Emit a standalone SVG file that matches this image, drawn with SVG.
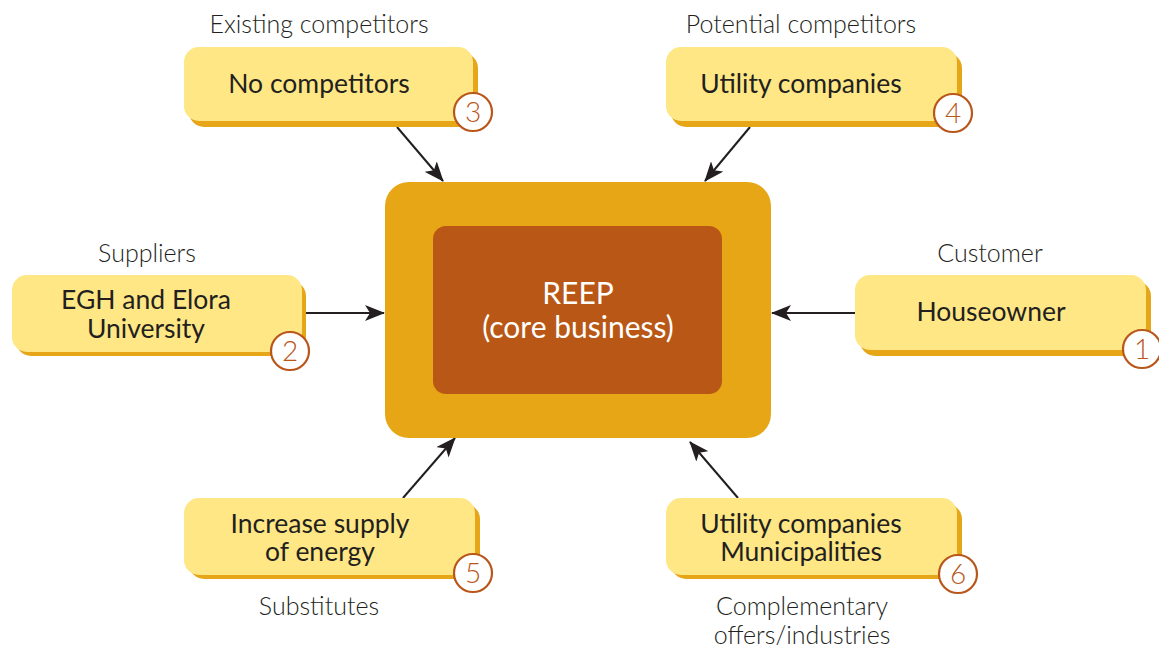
<svg xmlns="http://www.w3.org/2000/svg" width="1159" height="649" viewBox="0 0 1159 649">
<style>
.sh{fill:#e7a617}
.bx{fill:#fee784}
.t{font-family:Lato,"Liberation Sans",sans-serif;font-size:26.5px;fill:#231f20;text-anchor:middle}
.lb{font-family:Lato,"Liberation Sans",sans-serif;font-weight:300;font-size:25px;fill:#231f20;text-anchor:middle}
.c{fill:#fff;stroke:#b9561a;stroke-width:2.2}
.n{font-family:Lato,"Liberation Sans",sans-serif;font-weight:300;font-size:28px;fill:#b9561a;text-anchor:middle}
.ar{stroke:#231f20;stroke-width:2;fill:none;marker-end:url(#ah)}
</style>
<defs>
<marker id="ah" viewBox="0 0 20 16" refX="19" refY="8" markerWidth="20" markerHeight="16" markerUnits="userSpaceOnUse" orient="auto">
<path d="M0,0 L20,8 L0,16 L5,8 Z" fill="#231f20"/>
</marker>
</defs>
<g id="connectors">
<line class="ar" x1="397" y1="127" x2="443" y2="181"/>
<line class="ar" x1="750" y1="127" x2="705" y2="181"/>
<line class="ar" x1="305" y1="313" x2="384" y2="313"/>
<line class="ar" x1="856" y1="313" x2="772" y2="313"/>
<line class="ar" x1="403" y1="498" x2="455" y2="438"/>
<line class="ar" x1="738" y1="498" x2="690" y2="442"/>
</g>
<g id="core">
<rect x="385" y="182" width="386" height="256" rx="24" fill="#e6a615"/>
<rect x="433" y="226" width="289" height="168" rx="13" fill="#b95716"/>
<text x="578" y="304" font-family="Lato,'Liberation Sans',sans-serif" font-size="30" fill="#fff" text-anchor="middle">REEP</text>
<text x="578" y="338" font-family="Lato,'Liberation Sans',sans-serif" font-size="30" fill="#fff" text-anchor="middle">(core business)</text>
</g>
<g id="node3">
<text class="lb" x="319" y="33">Existing competitors</text>
<rect class="sh" x="189" y="53" width="289" height="74" rx="15"/>
<rect class="bx" x="184" y="47" width="289" height="74" rx="15"/>
<text class="t" x="319" y="93">No competitors</text>
<circle class="c" cx="473" cy="112" r="19"/>
<text class="n" x="473" y="122">3</text>
</g>
<g id="node4">
<text class="lb" x="801" y="33">Potential competitors</text>
<rect class="sh" x="671" y="53" width="291" height="74" rx="15"/>
<rect class="bx" x="666" y="47" width="291" height="74" rx="15"/>
<text class="t" x="801" y="93">Utility companies</text>
<circle class="c" cx="953" cy="113" r="19"/>
<text class="n" x="953" y="123">4</text>
</g>
<g id="node2">
<text class="lb" x="147" y="262">Suppliers</text>
<rect class="sh" x="16" y="281" width="290" height="75" rx="15"/>
<rect class="bx" x="12" y="275" width="290" height="77" rx="15"/>
<text class="t" x="146" y="309">EGH and Elora</text>
<text class="t" x="146" y="338">University</text>
<circle class="c" cx="290" cy="351" r="19"/>
<text class="n" x="290" y="361">2</text>
</g>
<g id="node1">
<text class="lb" x="990" y="262">Customer</text>
<rect class="sh" x="860" y="281" width="291" height="75" rx="15"/>
<rect class="bx" x="855" y="275" width="291" height="75" rx="15"/>
<text class="t" x="991" y="321">Houseowner</text>
<circle class="c" cx="1142" cy="349" r="19"/>
<text class="n" x="1142" y="359">1</text>
</g>
<g id="node5">
<rect class="sh" x="189" y="504" width="291" height="75" rx="15"/>
<rect class="bx" x="184" y="498" width="291" height="77" rx="15"/>
<text class="t" x="320" y="533">Increase supply</text>
<text class="t" x="320" y="561">of energy</text>
<circle class="c" cx="473" cy="573" r="19"/>
<text class="n" x="473" y="583">5</text>
<text class="lb" x="319" y="615">Substitutes</text>
</g>
<g id="node6">
<rect class="sh" x="671" y="504" width="291" height="75" rx="15"/>
<rect class="bx" x="666" y="498" width="291" height="77" rx="15"/>
<text class="t" x="801" y="533">Utility companies</text>
<text class="t" x="801" y="561">Municipalities</text>
<circle class="c" cx="958" cy="574" r="19"/>
<text class="n" x="958" y="584">6</text>
<text class="lb" x="802" y="615">Complementary</text>
<text class="lb" x="802" y="644">offers/industries</text>
</g>
</svg>
